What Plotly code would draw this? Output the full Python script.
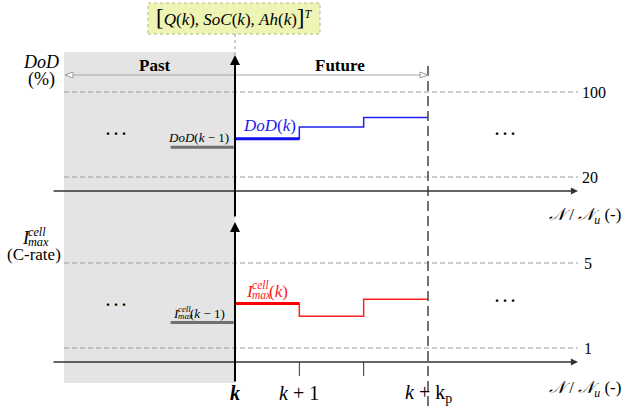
import plotly.graph_objects as go

W, H = 625, 408

# prediction horizon and step grid
kp = 3
steps = [0, 1, 2, 3]
tick_steps = [0, 1, 3]
tick_labels = ["<b><i>k</i></b>", "<i>k</i> + 1", "<i>k</i> + k<sub>p</sub>"]
inner_ticks = [1, 2]

# depth of discharge (%) over the horizon and the previous step
dod_levels = [100, 20]
dod_future = [56, 67, 76]
dod_prev = 48

# maximum cell current (C-rate) over the horizon and the previous step
imax_levels = [5, 1]
imax_future = [3.1, 2.5, 3.3]
imax_prev = 2.2

SERIF = "Liberation Serif"
GRID = "#9a9a9a"


def px(x):
    return x / W


def py(y):
    return 1 - y / H


# x: step 0 sits at 235 px, step kp at 428 px
x_scale = (428 - 235) / kp
x_range = [-235 / x_scale, (W - 235) / x_scale]


def y_range(v_lo, y_lo, v_hi, y_hi):
    s = (y_lo - y_hi) / (v_hi - v_lo)
    return [v_lo - (H - y_lo) / s, v_lo + y_lo / s]


dod_range = y_range(20, 177, 100, 92)
imax_range = y_range(1, 348, 5, 263)

fig = go.Figure()

shapes = []
ann = []


def label(x, y, text, size, color="black", xref="paper", yref="paper",
          xanchor="center", yanchor="middle", **kw):
    ann.append(dict(xref=xref, yref=yref, x=x, y=y, text=text, showarrow=False,
                    xanchor=xanchor, yanchor=yanchor,
                    font=dict(family=SERIF, size=size, color=color), **kw))


# shaded "past" region
shapes.append(dict(type="rect", xref="paper", yref="paper", x0=px(64), x1=px(235),
                   y0=py(383), y1=py(52), fillcolor="#e4e4e4", line_width=0, layer="below"))

# state-vector box
shapes.append(dict(type="rect", xref="paper", yref="paper", x0=px(148), x1=px(320),
                   y0=py(34), y1=py(3), fillcolor="#eef4b4",
                   line=dict(color="#b5b58a", width=1, dash="dot"), layer="below"))
label(px(234), py(18),
      "<span style='font-size:23px'>[</span><i>Q</i>(<i>k</i>), <i>SoC</i>(<i>k</i>), "
      "<i>Ah</i>(<i>k</i>)<span style='font-size:23px'>]</span><sup><i>T</i></sup>", 17)
shapes.append(dict(type="line", xref="paper", yref="paper", x0=px(235), x1=px(235),
                   y0=py(34), y1=py(56), line=dict(color="#999", width=1, dash="dot")))

# dashed reference levels
for v in dod_levels:
    shapes.append(dict(type="line", xref="paper", yref="y", x0=px(64), x1=px(578), y0=v, y1=v,
                       line=dict(color=GRID, width=1, dash="5px,3px")))
    label(px(580), v, str(v), 16, yref="y", xanchor="left")
for v in imax_levels:
    shapes.append(dict(type="line", xref="paper", yref="y2", x0=px(64), x1=px(578), y0=v, y1=v,
                       line=dict(color=GRID, width=1, dash="5px,3px")))
    label(px(582), v, str(v), 16, yref="y2", xanchor="left")

# end-of-horizon marker
shapes.append(dict(type="line", xref="x", yref="paper", x0=kp, x1=kp, y0=py(66), y1=py(408),
                   line=dict(color="#505050", width=1.6, dash="10px,5px")))

# past / future span
shapes.append(dict(type="line", xref="paper", yref="paper", x0=px(72), x1=px(421),
                   y0=py(75), y1=py(75), line=dict(color="#aaa", width=1)))
shapes.append(dict(type="path", xref="paper", yref="paper",
                   path=f"M {px(65)} {py(75)} L {px(73)} {py(72)} L {px(73)} {py(78)} Z",
                   line=dict(color="#999", width=1), fillcolor="white"))
shapes.append(dict(type="path", xref="paper", yref="paper",
                   path=f"M {px(428)} {py(75)} L {px(420)} {py(72)} L {px(420)} {py(78)} Z",
                   line=dict(color="#999", width=1), fillcolor="white"))
label(px(155), py(66), "<b>Past</b>", 17)
label(px(340), py(66), "<b>Future</b>", 17)

# horizontal time axes
for yax in (191, 362):
    ann.append(dict(xref="paper", yref="paper", x=px(578), y=py(yax), ax=-(578 - 52), ay=0,
                    showarrow=True, arrowhead=2, arrowsize=1.1, arrowwidth=1.3, arrowcolor="#333",
                    text=""))
# vertical axes at step k
ann.append(dict(xref="paper", yref="paper", x=px(235), y=py(55), ax=0, ay=222 - 55 - 4,
                showarrow=True, arrowhead=2, arrowsize=1, arrowwidth=2, arrowcolor="black", text=""))
ann.append(dict(xref="paper", yref="paper", x=px(235), y=py(222), ax=0, ay=383 - 222,
                showarrow=True, arrowhead=2, arrowsize=1, arrowwidth=2, arrowcolor="black", text=""))

# small ticks at intermediate steps
for s in inner_ticks:
    shapes.append(dict(type="line", xref="x", yref="paper", x0=s, x1=s, y0=py(362), y1=py(376),
                       line=dict(color="#333", width=1)))

for s, lab in zip(tick_steps, tick_labels):
    label(s, py(393), lab, 20, xref="x")

axis_name = "<i>𝒩</i> / <i>𝒩<sub>u</sub></i> (-)"
for yy in (216, 389):
    label(px(585), py(yy), axis_name, 17)

# y-axis titles
label(px(41), py(62), "<i>DoD</i>", 18)
label(px(41), py(80), "(%)", 18)


def imax_label(x_i, y_mid, size, color, suffix):
    """I with stacked superscript 'cell' and subscript 'max', then an argument."""
    small = size * 0.68
    label(px(x_i), py(y_mid), "<i>I</i>", size, color, xanchor="left")
    label(px(x_i + size * 0.36), py(y_mid - size * 0.36), "<i>cell</i>", small, color, xanchor="left")
    label(px(x_i + size * 0.36), py(y_mid + size * 0.22), "<i>max</i>", small, color, xanchor="left")
    if suffix:
        label(px(x_i + size * 0.36 + small * 1.45), py(y_mid), suffix, size, color, xanchor="left")


imax_label(20, 238, 18, "black", "")
label(px(34), py(254), "(C-rate)", 17)

# ellipses
for xx, yy in ((116, 129), (505, 129), (116, 300), (505, 296)):
    label(px(xx), py(yy), "<b>. . .</b>", 16)

# DoD planned profile
fig.add_trace(go.Scatter(x=steps, y=dod_future + [dod_future[-1]], mode="lines",
                         line=dict(color="#2020ee", width=1.5, shape="hv"), yaxis="y",
                         hoverinfo="skip", showlegend=False))
fig.add_trace(go.Scatter(x=steps[:2], y=[dod_future[0]] * 2, mode="lines",
                         line=dict(color="#1010ee", width=3), yaxis="y",
                         hoverinfo="skip", showlegend=False))
fig.add_trace(go.Scatter(x=[-1, -0.02], y=[dod_prev] * 2, mode="lines",
                         line=dict(color="#707070", width=3), yaxis="y",
                         hoverinfo="skip", showlegend=False))
label(0.1, dod_future[0], "<i>DoD</i>(<i>k</i>)", 17, "#1a1aee", xref="x", yref="y",
      xanchor="left", yshift=13)
label(-0.06, dod_prev, "<i>DoD</i>(<i>k</i> − 1)", 13, xref="x", yref="y",
      xanchor="right", yshift=10)

# max current planned profile
fig.add_trace(go.Scatter(x=steps, y=imax_future + [imax_future[-1]], mode="lines",
                         line=dict(color="#ff2020", width=1.5, shape="hv"), yaxis="y2",
                         hoverinfo="skip", showlegend=False))
fig.add_trace(go.Scatter(x=steps[:2], y=[imax_future[0]] * 2, mode="lines",
                         line=dict(color="#ff0000", width=3), yaxis="y2",
                         hoverinfo="skip", showlegend=False))
fig.add_trace(go.Scatter(x=[-1, -0.02], y=[imax_prev] * 2, mode="lines",
                         line=dict(color="#707070", width=3), yaxis="y2",
                         hoverinfo="skip", showlegend=False))

y_ik = 348 - (imax_future[0] - 1) * 85 / 4
imax_label(244, y_ik - 12, 17, "#ff1a1a", "(<i>k</i>)")
y_ip = 348 - (imax_prev - 1) * 85 / 4
imax_label(171, y_ip - 9, 13, "black", "(<i>k</i> − 1)")

fig.update_layout(
    width=W, height=H,
    margin=dict(l=0, r=0, t=0, b=0),
    paper_bgcolor="white", plot_bgcolor="white",
    xaxis=dict(range=x_range, visible=False, fixedrange=True),
    yaxis=dict(range=dod_range, visible=False, domain=[0, 1]),
    yaxis2=dict(range=imax_range, visible=False, overlaying="y", domain=[0, 1]),
    shapes=shapes,
    annotations=ann,
    showlegend=False,
)

fig.write_html("out.html", config={"displayModeBar": False})
